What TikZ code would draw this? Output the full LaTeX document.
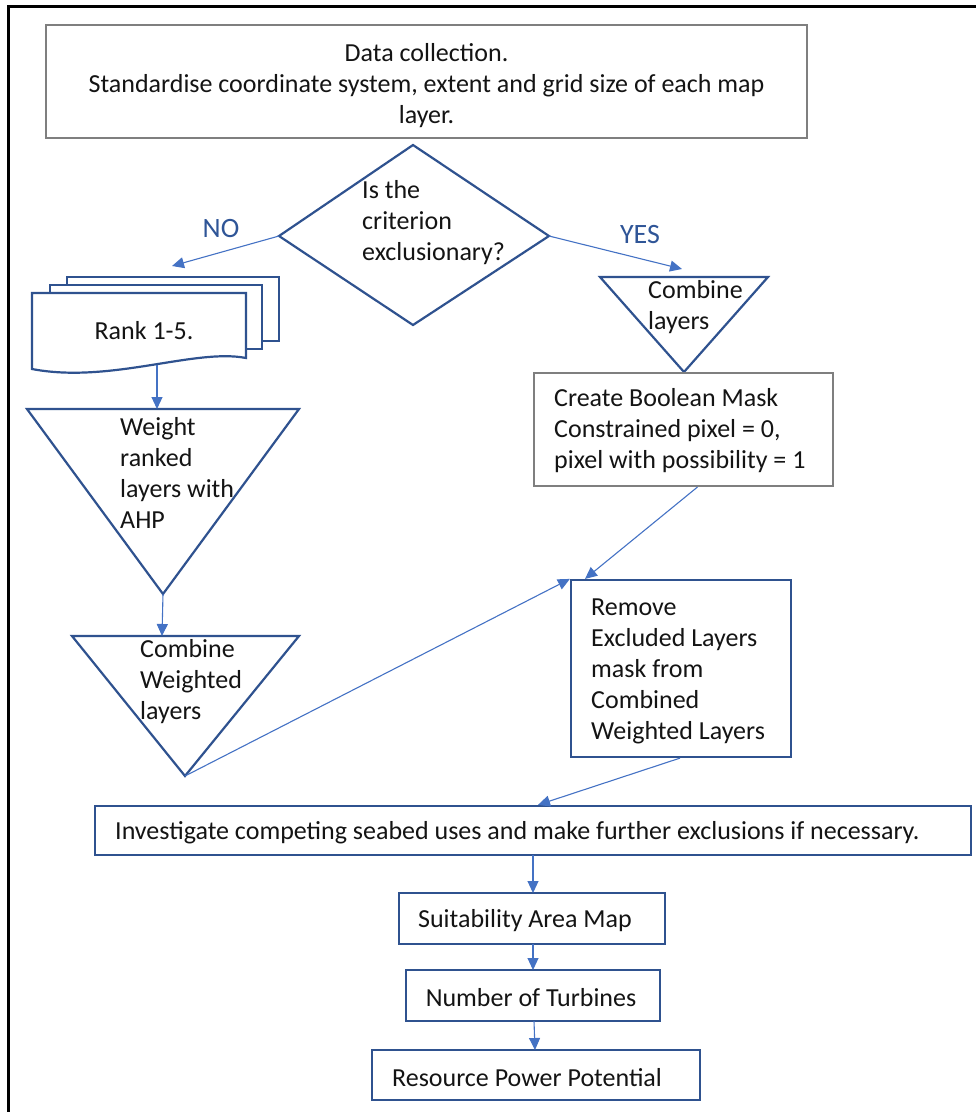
\documentclass[tikz,border=0pt]{standalone}
\usepackage{fontspec}
\setmainfont{Carlito}
\usetikzlibrary{arrows.meta}
\definecolor{shapeblue}{HTML}{2F528F}
\definecolor{arrowblue}{HTML}{4472C4}
\definecolor{boxgray}{HTML}{7F7F7F}
\definecolor{labelblue}{HTML}{2F5597}
\begin{document}
\begin{tikzpicture}[x=1pt,y=-1pt,
  txt/.style={font=\fontsize{26}{31}\selectfont, inner sep=0pt, align=left, text=black!92},
  bluebox/.style={draw=shapeblue, line width=2.2pt, fill=white, inner sep=0pt},
  graybox/.style={draw=boxgray, line width=2pt, fill=white, inner sep=0pt},
  shapeline/.style={draw=shapeblue, line width=2.2pt, line join=miter, fill=white},
  flow/.style={draw=arrowblue, line width=1.1pt, -{Triangle[length=12pt,width=11pt]}},
  lbl/.style={font=\fontsize{28}{30}\selectfont, text=labelblue, inner sep=0pt}
]
\useasboundingbox (0,0) rectangle (976,1112);
\coordinate (frameBL) at (8,1112);
\coordinate (frameTL) at (8,6);
\coordinate (frameTR) at (976,6);
\draw[line width=3pt] (frameBL) -- (frameTL) -- (frameTR);

% data box
\node[graybox, minimum width=761, minimum height=113] (data) at (426.5,81.5) {};
\node[txt, align=center] (dataT) at (426.5,86) {Data collection.\\Standardise coordinate system, extent and grid size of each map\\layer.};

% diamond
\coordinate (dT) at (413,145);
\coordinate (dL) at (279,236);
\coordinate (dR) at (549,236);
\coordinate (dB) at (413,325);
\draw[shapeline] (dT) -- (dR) -- (dB) -- (dL) -- cycle;
\node[txt, anchor=west] (q) at (362,223) {Is the\\criterion\\exclusionary?};

% labels
\node[lbl] (no) at (221,229) {NO};
\node[lbl] (yes) at (640,235) {YES};

% multi document
\draw[shapeline] (67,277) -- (279,277) -- (279,341) -- (262,341) -- (262,285) -- (67,285) -- cycle;
\draw[shapeline] (50,285) -- (262,285) -- (262,349) -- (246,349) -- (246,293) -- (50,293) -- cycle;
\draw[shapeline] (32,293) -- (246,293) -- (246,358) .. controls (195,348) and (110,384) .. (32,369) -- cycle;
\node[txt] (rank) at (144,331) {Rank 1-5.};
\coordinate (noEnd) at (172,266);
\coordinate (docB) at (157,365);

% weight triangle
\coordinate (wL) at (27,409);
\coordinate (wR) at (299,409);
\coordinate (wA) at (163,594);
\coordinate (wTop) at (157,409);
\draw[shapeline] (wL) -- (wR) -- (wA) -- cycle;
\node[txt, anchor=west] (weight) at (120,473) {Weight\\ranked\\layers with\\AHP};

% combine weighted triangle
\coordinate (cL) at (72,636);
\coordinate (cR) at (299,636);
\coordinate (cA) at (185,776);
\coordinate (cTop) at (162,636);
\draw[shapeline] (cL) -- (cR) -- (cA) -- cycle;
\node[txt, anchor=west] (cw) at (140,681.5) {Combine\\Weighted\\layers};

% combine layers triangle
\coordinate (rL) at (600,277);
\coordinate (rR) at (768,277);
\coordinate (rA) at (684,372);
\coordinate (yesEnd) at (682,269);
\draw[shapeline] (rL) -- (rR) -- (rA) -- cycle;
\node[txt, anchor=west] (cl) at (648,307.5) {Combine\\layers};

% boolean box
\node[graybox, minimum width=299, minimum height=113] (bool) at (683.5,429.5) {};
\node[txt, anchor=west] (boolT) at (554,431) {Create Boolean Mask\\Constrained pixel = 0,\\pixel with possibility = 1};

% remove box
\node[bluebox, minimum width=220, minimum height=177] (remove) at (681,668.5) {};
\node[txt, anchor=west] (removeT) at (591,671) {Remove\\Excluded Layers\\mask from\\Combined\\Weighted Layers};

% investigate box
\node[bluebox, minimum width=876, minimum height=49] (inv) at (533,830.5) {};
\node[txt, anchor=west] (invT) at (115,832.5) {Investigate competing seabed uses and make further exclusions if necessary.};

% bottom boxes
\node[bluebox, minimum width=266, minimum height=51] (suit) at (532,918.5) {};
\node[txt] (suitT) at (525,920.5) {Suitability Area Map};
\node[bluebox, minimum width=254, minimum height=51] (turb) at (533,995.5) {};
\node[txt] (turbT) at (531,997.5) {Number of Turbines};
\node[bluebox, minimum width=328, minimum height=50] (res) at (536,1075) {};
\node[txt] (resT) at (527,1077.5) {Resource Power Potential};

% connectors
\coordinate (invS) at (533,855);
\coordinate (suitN) at (533,893);
\coordinate (suitS) at (533,944);
\coordinate (turbN) at (533,970);
\coordinate (turbS) at (534,1021);
\coordinate (resN) at (535,1050);
\draw[flow] (dL) -- (noEnd);
\draw[flow] (dR) -- (yesEnd);
\draw[flow] (docB) -- (wTop);
\draw[flow] (wA) -- (cTop);
\draw[flow] (cA) -- (remove.north west);
\draw[flow] ([xshift=14pt]bool.south) -- ([xshift=-96pt]remove.north);
\draw[flow] ([xshift=-1pt]remove.south) -- ([xshift=5pt]inv.north);
\draw[flow] (invS) -- (suitN);
\draw[flow] (suitS) -- (turbN);
\draw[flow] (turbS) -- (resN);
\end{tikzpicture}
\end{document}
